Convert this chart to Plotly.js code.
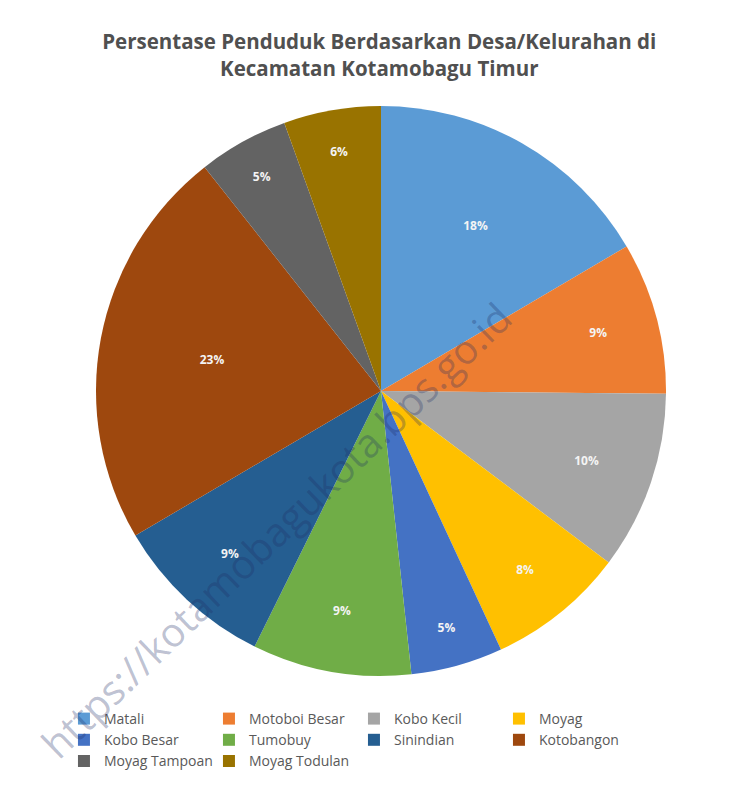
<!DOCTYPE html>
<html>
<head>
<meta charset="utf-8">
<script src="https://cdn.plot.ly/plotly-3.0.1.min.js"></script>
<style>html,body{margin:0;padding:0;background:#fff;}#chart{width:751px;height:810px;}</style>
</head>
<body>
<div id="chart"></div>
<script>
// Villages (desa/kelurahan) of Kecamatan Kotamobagu Timur
const desa = ["Matali", "Motoboi Besar", "Kobo Kecil", "Moyag", "Kobo Besar",
              "Tumobuy", "Sinindian", "Kotobangon", "Moyag Tampoan", "Moyag Todulan"];
// Share of population (%)
const persen = [16.5, 8.6, 10.1, 7.8, 5.2, 9.0, 9.2, 22.8, 5.1, 5.5];
// Data labels as printed on the chart
const labelPersen = ["18%", "9%", "10%", "8%", "5%", "9%", "9%", "23%", "5%", "6%"];
const warna = ["#5B9BD5", "#ED7D31", "#A5A5A5", "#FFC000", "#4472C4",
               "#70AD47", "#255E91", "#9E480E", "#636363", "#997300"];

const W = 751, H = 810;
const cx = 381, cy = 391, r = 285;

const trace = {
  type: "pie",
  labels: desa,
  values: persen,
  text: labelPersen,
  textinfo: "text",
  textposition: "inside",
  insidetextorientation: "horizontal",
  textfont: {family: "Open Sans, sans-serif", size: 12, color: "#f4f4f4", weight: "bold"},
  sort: false,
  direction: "clockwise",
  rotation: 0,
  marker: {colors: warna, line: {color: "rgba(0,0,0,0)", width: 0}},
  domain: {x: [(cx - r) / W, (cx + r) / W], y: [1 - (cy + r) / H, 1 - (cy - r) / H]},
  hoverinfo: "label+percent"
};

const layout = {
  width: W, height: H,
  margin: {l: 0, r: 0, t: 0, b: 0},
  paper_bgcolor: "#ffffff",
  showlegend: true,
  title: {
    text: "<b>Persentase Penduduk Berdasarkan Desa/Kelurahan di<br>Kecamatan Kotamobagu Timur</b>",
    x: 0.505, xanchor: "center", y: 1 - 49 / H, yanchor: "top",
    font: {family: "Open Sans, sans-serif", size: 20.5, color: "#505050"}
  },
  legend: {
    orientation: "h",
    x: 76 / W, xanchor: "left",
    y: 1 - 703 / H, yanchor: "top",
    entrywidth: 100, entrywidthmode: "pixels",
    traceorder: "normal",
    font: {family: "Open Sans, sans-serif", size: 14, color: "#595959"},
    itemclick: false
  },
  annotations: [{
    text: "https://kotamobagukota.bps.go.id",
    xref: "paper", yref: "paper", x: 275 / W, y: 1 - 530 / H,
    xanchor: "center", yanchor: "middle",
    showarrow: false, textangle: -44,
    font: {family: "Open Sans, sans-serif", size: 40, color: "rgba(30,45,100,0.30)"}
  }]
};

Plotly.newPlot("chart", [trace], layout, {displayModeBar: false, staticPlot: true});
</script>
</body>
</html>
